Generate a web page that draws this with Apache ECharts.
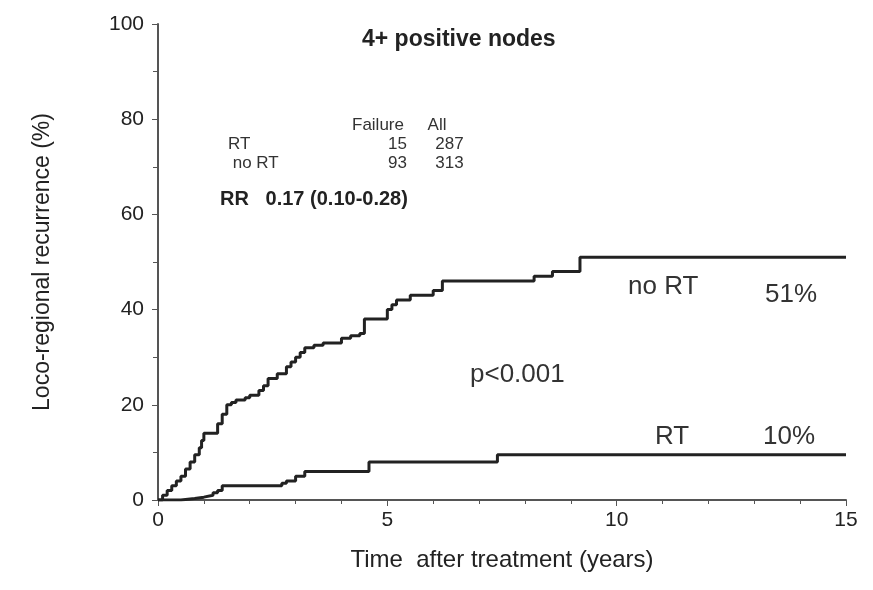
<!DOCTYPE html><html><head><meta charset="utf-8"><script src="https://cdn.jsdelivr.net/npm/echarts@6/dist/echarts.min.js"></script></head><body style="margin:0;background:#fff"><div id="c" style="width:873px;height:590px"></div><script>
const noRT=[[0,0],[0.1,1],[0.2,2],[0.3,3],[0.4,4],[0.5,5],[0.6,6.5],[0.7,8],[0.8,9.5],[0.9,11],[0.95,12.5],[1.0,14],[1.2,14],[1.3,16],[1.4,18],[1.5,20],[1.6,20.5],[1.7,21],[1.9,21.5],[2.0,22],[2.2,23],[2.3,24],[2.4,25.5],[2.6,26.5],[2.8,28],[2.9,29],[3.0,30],[3.1,31],[3.2,32],[3.4,32.5],[3.6,33],[4.0,34],[4.2,34.5],[4.4,35],[4.5,38],[4.9,38],[5.0,40],[5.1,41],[5.2,42],[5.5,43],[6.0,44],[6.2,46],[8.0,46],[8.2,47],[8.6,48],[9.1,48],[9.2,51],[15,51]];
const RT=[[0,0],[0.5,0.3],[0.8,0.6],[1.0,1],[1.2,1.5],[1.3,2],[1.4,3],[2.6,3],[2.7,3.5],[2.8,4],[3.0,5],[3.2,6],[4.5,6],[4.6,8],[7.3,8],[7.4,9.5],[15,9.5]];
const F='Liberation Sans';
const c=echarts.init(document.getElementById('c'));
const ax={show:true,lineStyle:{color:'#555',width:2}};
c.setOption({animation:false,
grid:{left:158,right:27,top:24,bottom:90},
xAxis:{type:'value',min:0,max:15,interval:5,minorTick:{show:true,splitNumber:5,length:4,lineStyle:{color:'#555'}},axisLine:ax,axisTick:{length:6,lineStyle:{color:'#555'}},splitLine:{show:false},axisLabel:{fontFamily:F,fontSize:21,color:'#222',margin:10},name:'Time  after treatment (years)',nameLocation:'middle',nameGap:48,nameTextStyle:{fontFamily:F,fontSize:24,color:'#222'}},
yAxis:{type:'value',min:0,max:100,interval:20,minorTick:{show:true,splitNumber:2,length:5,lineStyle:{color:'#555'}},axisLine:ax,axisTick:{length:6,lineStyle:{color:'#555'}},splitLine:{show:false},axisLabel:{fontFamily:F,fontSize:21,color:'#222',margin:14},name:'Loco-regional recurrence (%)',nameLocation:'middle',nameGap:104,nameTextStyle:{fontFamily:F,fontSize:23,color:'#222'}},
series:[{type:'line',step:'end',data:noRT,symbol:'none',lineStyle:{color:'#222',width:3}},{type:'line',step:'end',data:RT,symbol:'none',lineStyle:{color:'#222',width:3}}],
graphic:[
{type:'text',left:362,top:28,style:{text:'4+ positive nodes',font:'bold 23px '+F,fill:'#222'}},
{type:'text',left:352,top:117,style:{text:'Failure     All',font:'17px '+F,fill:'#333'}},
{type:'text',left:228,top:136,style:{text:'RT',font:'17px '+F,fill:'#333'}},
{type:'text',left:388,top:136,style:{text:'15      287',font:'17px '+F,fill:'#333'}},
{type:'text',left:228,top:155,style:{text:' no RT',font:'17px '+F,fill:'#333'}},
{type:'text',left:388,top:155,style:{text:'93      313',font:'17px '+F,fill:'#333'}},
{type:'text',left:220,top:189,style:{text:'RR   0.17 (0.10-0.28)',font:'bold 20px '+F,fill:'#222'}},
{type:'text',left:628,top:274,style:{text:'no RT',font:'26px '+F,fill:'#333'}},
{type:'text',left:765,top:282,style:{text:'51%',font:'26px '+F,fill:'#333'}},
{type:'text',left:470,top:362,style:{text:'p<0.001',font:'26px '+F,fill:'#333'}},
{type:'text',left:655,top:424,style:{text:'RT',font:'26px '+F,fill:'#333'}},
{type:'text',left:763,top:424,style:{text:'10%',font:'26px '+F,fill:'#333'}}
]});
</script></body></html>
